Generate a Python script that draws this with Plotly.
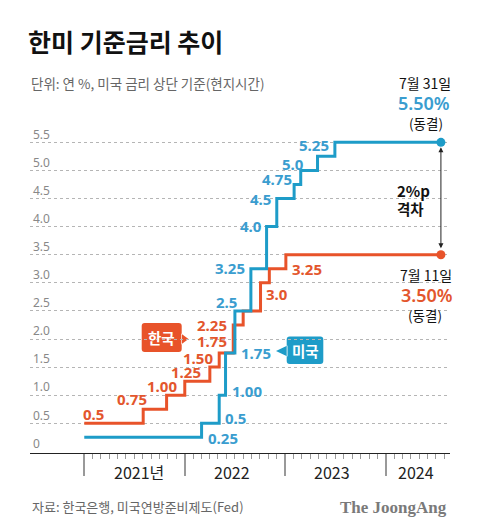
import plotly.graph_objects as go
import pandas as pd

# ---------------- data ----------------
kr_dates = ["2021-01-01", "2021-08-03", "2021-10-27", "2022-01-01", "2022-04-02",
            "2022-05-06", "2022-06-26", "2022-08-01", "2022-10-03", "2022-11-04",
            "2023-01-03", "2024-07-19"]
kr_rates = [0.50, 0.75, 1.00, 1.25, 1.50, 1.75, 2.25, 2.50, 3.00, 3.25, 3.50, 3.50]

us_dates = ["2021-01-01", "2022-03-03", "2022-05-06", "2022-05-29", "2022-07-02",
            "2022-08-29", "2022-10-25", "2022-12-01", "2023-02-02", "2023-02-26",
            "2023-04-28", "2023-06-30", "2024-07-19"]
us_rates = [0.25, 0.50, 1.00, 1.75, 2.50, 3.25, 4.00, 4.50, 4.75, 5.00, 5.25, 5.50, 5.50]

kr_label_text = ["0.5", "0.75", "1.00", "1.25", "1.50", "1.75", "2.25", "3.0", "3.25"]
us_label_text = ["0.25", "0.5", "1.00", "1.75", "2.5", "3.25", "4.0", "4.5", "4.75", "5.0", "5.25"]

y_tick_vals = [0.5, 1.0, 1.5, 2.0, 2.5, 3.0, 3.5, 4.0, 4.5, 5.0, 5.5]
y_tick_text = ["0.5", "1.0", "1.5", "2.0", "2.5", "3.0", "3.5", "4.0", "4.5", "5.0", "5.5"]
year_starts = ["2021-01-01", "2022-01-01", "2023-01-01", "2024-01-01"]
year_labels = ["2021년", "2022", "2023", "2024"]

# ---------------- layout constants ----------------
KR_COLOR = "#e8532a"
US_COLOR = "#1e9cc8"
KR_TEXT = "#e3562d"
US_TEXT = "#3a9dcf"
KFONT = "Noto Sans CJK KR"
LFONT = "Noto Sans"

W, H = 480, 532
L, R, T, B = 30, 30, 100, 79
PW, PH = W - L - R, H - T - B


def px(x):
    return (x - L) / PW


def py(y):
    return (H - B - y) / PH


# label centre positions (pixels)
kr_label_pos = [(93.5, 414), (131.5, 398.5), (161.5, 386), (185.5, 371.5), (198, 357.5),
                (211.5, 341), (211.5, 325), (276.5, 293.5), (306.5, 269)]
us_label_pos = [(222.5, 437.5), (235, 417.5), (247, 391), (256, 352.5), (226, 301.5),
                (230, 268), (251, 226), (260.5, 199), (276.5, 179), (292.5, 163.5), (313.5, 145)]

fig = go.Figure()

fig.add_trace(go.Scatter(x=kr_dates, y=kr_rates, mode="lines", line=dict(color=KR_COLOR, width=3, shape="hv"),
                         hoverinfo="skip", showlegend=False))
fig.add_trace(go.Scatter(x=us_dates, y=us_rates, mode="lines", line=dict(color=US_COLOR, width=3, shape="hv"),
                         hoverinfo="skip", showlegend=False))
fig.add_trace(go.Scatter(x=[kr_dates[-1]], y=[kr_rates[-1]], mode="markers",
                         marker=dict(color=KR_COLOR, size=9), hoverinfo="skip", showlegend=False))
fig.add_trace(go.Scatter(x=[us_dates[-1]], y=[us_rates[-1]], mode="markers",
                         marker=dict(color=US_COLOR, size=9), hoverinfo="skip", showlegend=False))

ann = []


def text(x, y, s, size, color, family=LFONT, weight="normal", xanchor="center"):
    ann.append(dict(x=px(x), y=py(y), xref="paper", yref="paper", text=s, showarrow=False,
                    xanchor=xanchor, yanchor="middle",
                    font=dict(size=size, color=color, family=family, weight=weight)))


for s, (x, y) in zip(kr_label_text, kr_label_pos):
    text(x, y, s, 15, KR_TEXT, weight="bold")
for s, (x, y) in zip(us_label_text, us_label_pos):
    text(x, y, s, 15, US_TEXT, weight="bold")

# right-side notes
text(425, 83, "7월 31일", 14, "#111", KFONT)
text(424, 103, "5.50%", 18, US_TEXT, LFONT, weight=600)
text(425.5, 123, "(동결)", 13.5, "#111", KFONT)
text(426, 274.5, "7월 11일", 14, "#111", KFONT)
text(426.5, 295, "3.50%", 18, KR_TEXT, LFONT, weight=600)
text(425, 315, "(동결)", 13.5, "#111", KFONT)
text(395, 190.5, "2%p", 15, "#111", KFONT, weight="bold", xanchor="left")
text(395, 208.5, "격차", 14.5, "#111", KFONT, weight="bold", xanchor="left")

# y "0" label
text(31, 443.5, "0", 12, "#888", LFONT, xanchor="left")

# year labels
for s, x in zip(year_labels, [139, 232, 332, 416]):
    text(x, 471.5, s, 16, "#222", KFONT)

# gap arrow
ann.append(dict(x=us_dates[-1], y=us_rates[-1], ax=kr_dates[-1], ay=kr_rates[-1],
                xref="x", yref="y", axref="x", ayref="y", text="", showarrow=True,
                arrowhead=2, arrowside="end+start", arrowsize=1, arrowwidth=1,
                arrowcolor="#222", standoff=5, startstandoff=5))

# legend tags
text(161.7, 337.5, "한국", 14.5, "white", KFONT, weight="bold")
text(305, 350.5, "미국", 14.5, "white", KFONT, weight="bold")

# subtitle / footer
text(28.5, 83, "단위: 연 %, 미국 금리 상단 기준(현지시간)", 13.5, "#666", KFONT, xanchor="left")
text(29.5, 506.5, "자료: 한국은행, 미국연방준비제도(Fed)", 13, "#666", KFONT, xanchor="left")
ann.append(dict(x=px(448.5), y=py(507), xref="paper", yref="paper", text="The JoongAng",
                showarrow=False, xanchor="right", yanchor="middle",
                font=dict(size=17, color="#7a7a7a", family="Liberation Serif", weight="bold")))


def tag_path(x0, y0, x1, y1, r, tri):
    def P(x, y):
        return f"{px(x):.5f},{py(y):.5f}"
    d = (f"M{P(x0 + r, y0)} L{P(x1 - r, y0)} Q{P(x1, y0)} {P(x1, y0 + r)} "
         f"L{P(x1, y1 - r)} Q{P(x1, y1)} {P(x1 - r, y1)} L{P(x0 + r, y1)} "
         f"Q{P(x0, y1)} {P(x0, y1 - r)} L{P(x0, y0 + r)} Q{P(x0, y0)} {P(x0 + r, y0)} Z "
         f"M{P(*tri[0])} L{P(*tri[1])} L{P(*tri[2])} Z")
    return d


shapes = [
    dict(type="path", xref="paper", yref="paper", layer="below",
         path=tag_path(141.7, 323, 181.7, 352, 3, [(181, 333.5), (188.5, 339), (181, 344.5)]),
         fillcolor=KR_COLOR, line=dict(width=0)),
    dict(type="path", xref="paper", yref="paper", layer="below",
         path=tag_path(286.7, 336.5, 323.3, 364, 3, [(287.5, 345.5), (276, 351), (287.5, 356.5)]),
         fillcolor=US_COLOR, line=dict(width=0)),
]

month_ticks = [d.strftime("%Y-%m-%d") for d in pd.date_range("2021-01-01", "2024-08-01", freq="MS")]

fig.update_layout(
    width=W, height=H,
    margin=dict(l=L, r=R, t=T, b=B),
    paper_bgcolor="white", plot_bgcolor="white",
    title=dict(text="한미 기준금리 추이", x=28 / W, xanchor="left", y=1 - 43 / H, yanchor="middle",
               font=dict(family=KFONT, size=25, color="#111", weight="bold")),
    annotations=ann,
    shapes=shapes,
    xaxis=dict(type="date", range=["2020-06-18", "2024-08-21"], showgrid=False, zeroline=False,
               showline=True, linecolor="#222", linewidth=1.2,
               tickmode="array", tickvals=year_starts, ticks="outside", ticklen=22, tickwidth=1.5,
               tickcolor="#999", showticklabels=False,
               minor=dict(tickmode="array", tickvals=month_ticks, ticks="outside", ticklen=5,
                          tickwidth=1, tickcolor="#999", showgrid=False)),
    yaxis=dict(range=[-0.0285, 6.253], tickmode="array", tickvals=y_tick_vals, ticktext=y_tick_text,
               showgrid=True, gridcolor="#b5b5b5", griddash="dot", gridwidth=1, zeroline=False,
               showline=False, ticks="", ticklabelposition="inside", ticklabelshift=-8,
               ticklabelstandoff=0, tickfont=dict(size=12, color="#888", family=LFONT)),
    font=dict(family=KFONT),
)

fig.write_html("out.html", config={"displayModeBar": False},
               post_script="document.body.style.margin='0';document.body.style.padding='0';")
